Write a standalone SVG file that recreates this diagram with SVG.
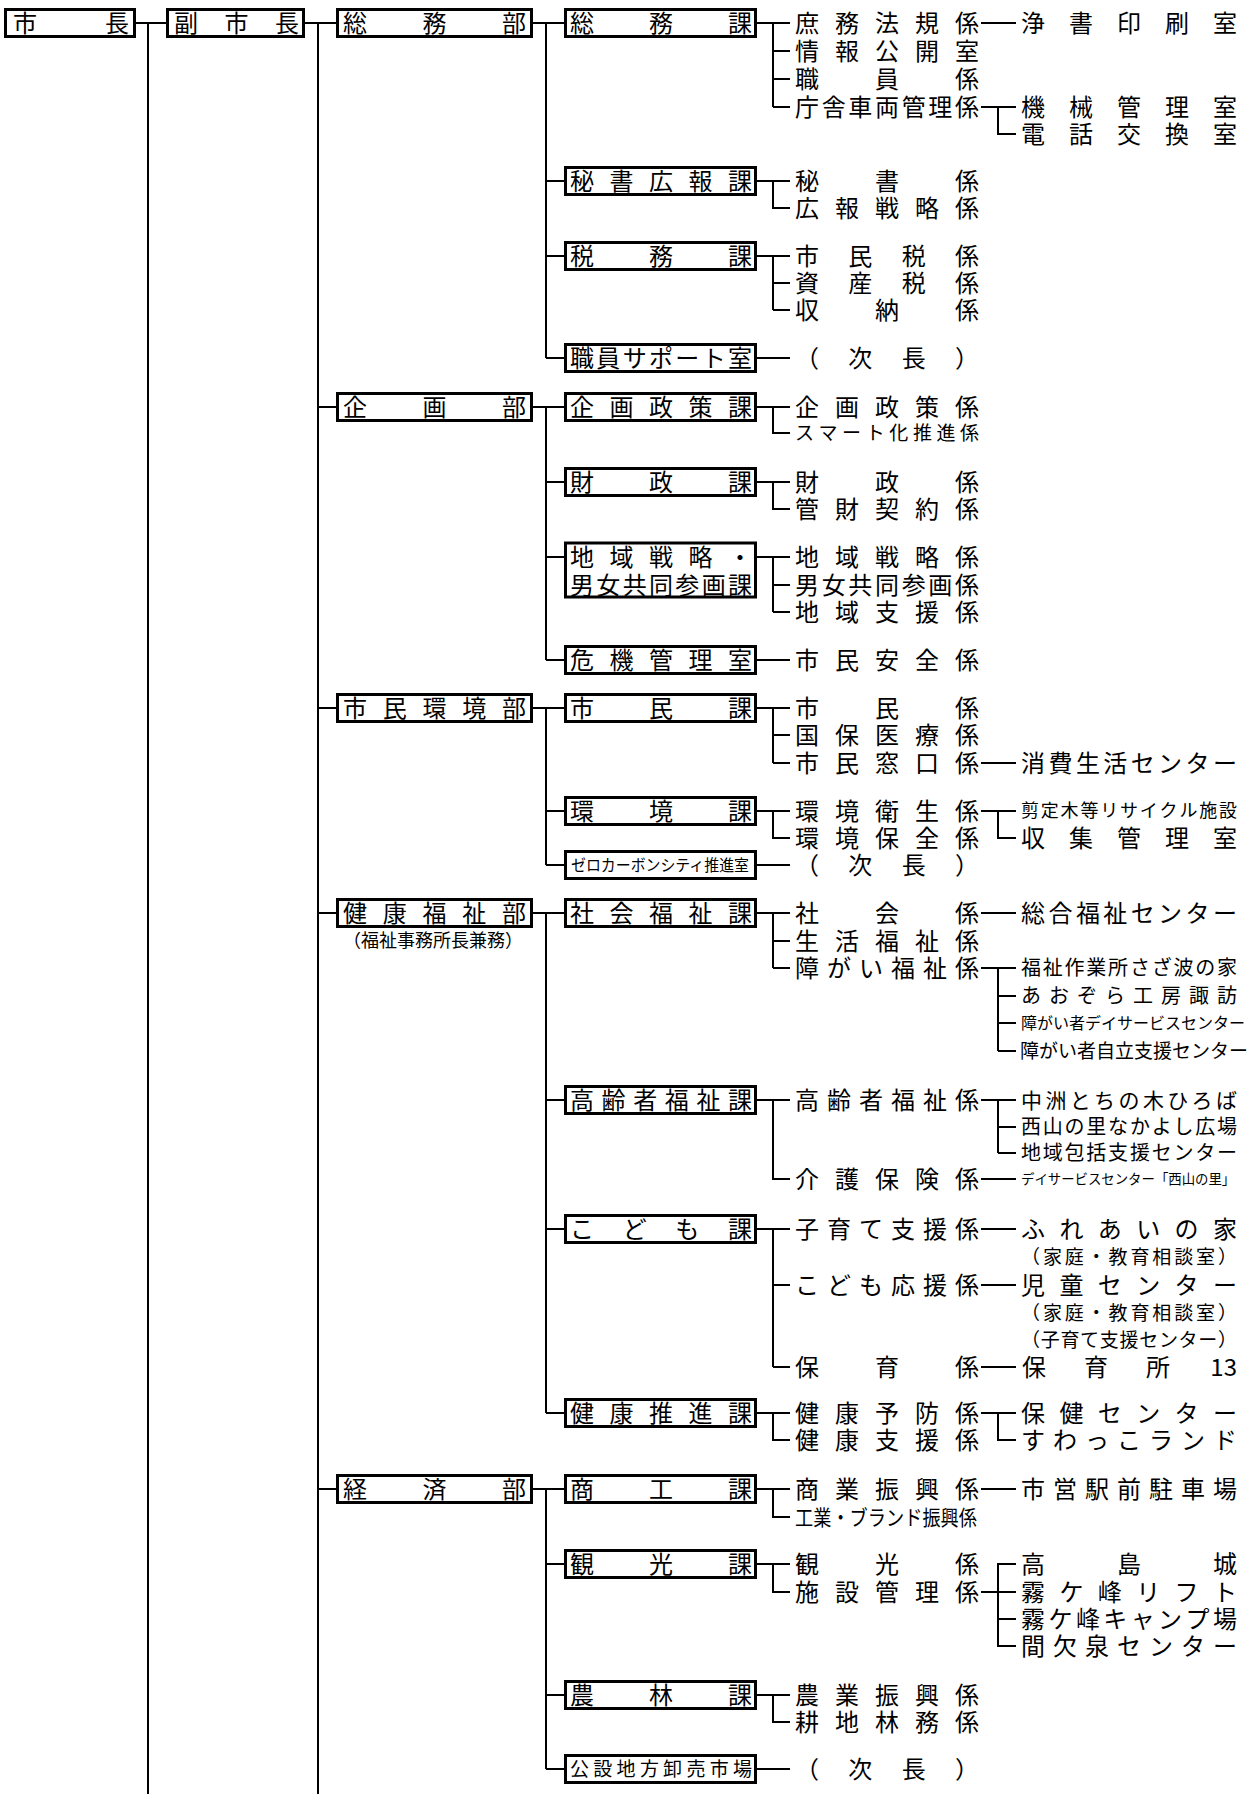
<svg xmlns="http://www.w3.org/2000/svg" width="1258" height="1794" viewBox="0 0 1258 1794">
<style>
.t{font-family:'Noto Sans CJK JP','Noto Sans CJK SC',sans-serif;font-size:24px;fill:#000}
.f21{font-size:21px}.f20{font-size:20px}.f19{font-size:19px}.f18{font-size:18px}.f16{font-size:16px}.f13{font-size:13.4px}
.box{fill:#fff;stroke:#000;stroke-width:3}
.ln{fill:none;stroke:#000;stroke-width:2}
</style>
<rect width="1258" height="1794" fill="#fff"/>
<g id="connectors" class="ln">
<path d="M136 23H166M148 23V1794"/>
<path d="M305 23H336M318 23V1794M318 407H336M318 708H336M318 913H336M318 1489H336"/>
<path d="M533 23H564M546 23V358M546 181H564M546 256H564M546 358H564"/>
<path d="M533 407H564M546 407V660M546 482H564M546 557H564M546 660H564"/>
<path d="M533 708H564M546 708V865M546 811H564M546 865H564"/>
<path d="M533 913H564M546 913V1413M546 1100H564M546 1229H564M546 1413H564"/>
<path d="M533 1489H564M546 1489V1769M546 1564H564M546 1695H564M546 1769H564"/>
<path d="M757 23H790M773 23V107M773 51H790M773 79H790M773 107H790"/>
<path d="M757 181H790M773 181V208H790"/>
<path d="M757 256H790M773 256V310M773 283H790M773 310H790"/>
<path d="M757 358H790"/>
<path d="M757 407H790M773 407V433H790"/>
<path d="M757 482H790M773 482V509H790"/>
<path d="M757 557H790M773 557V612M773 585H790M773 612H790"/>
<path d="M757 660H790"/>
<path d="M757 708H790M773 708V763M773 735H790M773 763H790"/>
<path d="M757 811H790M773 811V838H790"/>
<path d="M757 865H790"/>
<path d="M757 913H790M773 913V968M773 941H790M773 968H790"/>
<path d="M757 1100H790M773 1100V1179H790"/>
<path d="M757 1229H790M773 1229V1367M773 1285H790M773 1367H790"/>
<path d="M757 1413H790M773 1413V1440H790"/>
<path d="M757 1489H790M773 1489V1517H790"/>
<path d="M757 1564H790M773 1564V1592H790"/>
<path d="M757 1695H790M773 1695V1722H790"/>
<path d="M757 1769H790"/>
<path d="M981 23H1016"/>
<path d="M981 107H1016M998 107V134H1016"/>
<path d="M981 763H1016"/>
<path d="M981 811H1016M998 811V838H1016"/>
<path d="M981 913H1016"/>
<path d="M981 968H1016M998 968V1051M998 996H1016M998 1023H1016M998 1051H1016"/>
<path d="M981 1100H1016M998 1100V1153M998 1127H1016M998 1153H1016"/>
<path d="M981 1179H1016"/>
<path d="M981 1229H1016"/>
<path d="M981 1285H1016"/>
<path d="M981 1367H1016"/>
<path d="M981 1413H1016M998 1413V1440H1016"/>
<path d="M981 1489H1016"/>
<path d="M1016 1564H998V1646H1016M981 1592H1016M998 1619H1016"/>
</g>
<g id="n-shicho"><rect class="box" x="5.5" y="9.5" width="129" height="27"/><text class="t" x="13 105" y="32">市長</text></g>
<g id="n-fukushicho"><rect class="box" x="167.5" y="9.5" width="136" height="27"/><text class="t" x="174 224.5 275" y="32">副市長</text></g>
<g id="n-somubu"><rect class="box" x="337.5" y="9.5" width="194" height="27"/><text class="t" x="343 422.5 502" y="32">総務部</text></g>
<g id="n-kikakubu"><rect class="box" x="337.5" y="393.5" width="194" height="27"/><text class="t" x="343 422.5 502" y="416">企画部</text></g>
<g id="n-shiminkankyobu"><rect class="box" x="337.5" y="694.5" width="194" height="27"/><text class="t" x="343 382.8 422.5 462.3 502" y="717">市民環境部</text></g>
<g id="n-kenkofukushibu"><rect class="box" x="337.5" y="899.5" width="194" height="27"/><text class="t" x="343 382.8 422.5 462.3 502" y="922">健康福祉部</text><text class="t f18" x="343" y="947">（福祉事務所長兼務）</text></g>
<g id="n-keizaibu"><rect class="box" x="337.5" y="1475.5" width="194" height="27"/><text class="t" x="343 422.5 502" y="1498">経済部</text></g>
<g id="n-somuka"><rect class="box" x="565.5" y="9.5" width="190" height="27"/><text class="t" x="570 649 728" y="32">総務課</text></g>
<g id="n-hisho"><rect class="box" x="565.5" y="167.5" width="190" height="27"/><text class="t" x="570 609.5 649 688.5 728" y="190">秘書広報課</text></g>
<g id="n-zeimu"><rect class="box" x="565.5" y="242.5" width="190" height="27"/><text class="t" x="570 649 728" y="265">税務課</text></g>
<g id="n-support"><rect class="box" x="565.5" y="344.5" width="190" height="27"/><text class="t" x="570 596.3 622.7 649 675.3 701.7 728" y="367">職員サポート室</text></g>
<g id="n-kikakuseisaku"><rect class="box" x="565.5" y="393.5" width="190" height="27"/><text class="t" x="570 609.5 649 688.5 728" y="416">企画政策課</text></g>
<g id="n-zaisei"><rect class="box" x="565.5" y="468.5" width="190" height="27"/><text class="t" x="570 649 728" y="491">財政課</text></g>
<g id="n-chiiki"><rect class="box" x="565.5" y="543" width="190" height="54"/><text class="t" x="570 609.5 649 688.5 728" y="566">地域戦略・</text><text class="t" x="570 596.3 622.7 649 675.3 701.7 728" y="594">男女共同参画課</text></g>
<g id="n-kiki"><rect class="box" x="565.5" y="646.5" width="190" height="27"/><text class="t" x="570 609.5 649 688.5 728" y="669">危機管理室</text></g>
<g id="n-shiminka"><rect class="box" x="565.5" y="694.5" width="190" height="27"/><text class="t" x="570 649 728" y="717">市民課</text></g>
<g id="n-kankyo"><rect class="box" x="565.5" y="797.5" width="190" height="27"/><text class="t" x="570 649 728" y="820">環境課</text></g>
<g id="n-zerocarbon"><rect class="box" x="565.5" y="851.5" width="190" height="27"/><text class="t f16" x="571" y="871" textLength="178" lengthAdjust="spacingAndGlyphs">ゼロカーボンシティ推進室</text></g>
<g id="n-shakaifukushi"><rect class="box" x="565.5" y="899.5" width="190" height="27"/><text class="t" x="570 609.5 649 688.5 728" y="922">社会福祉課</text></g>
<g id="n-koreisha"><rect class="box" x="565.5" y="1086.5" width="190" height="27"/><text class="t" x="570 601.6 633.2 664.8 696.4 728" y="1109">高齢者福祉課</text></g>
<g id="n-kodomo"><rect class="box" x="565.5" y="1215.5" width="190" height="27"/><text class="t" x="570 622.7 675.3 728" y="1238">こども課</text></g>
<g id="n-kenkosuishin"><rect class="box" x="565.5" y="1399.5" width="190" height="27"/><text class="t" x="570 609.5 649 688.5 728" y="1422">健康推進課</text></g>
<g id="n-shoko"><rect class="box" x="565.5" y="1475.5" width="190" height="27"/><text class="t" x="570 649 728" y="1498">商工課</text></g>
<g id="n-kanko"><rect class="box" x="565.5" y="1550.5" width="190" height="27"/><text class="t" x="570 649 728" y="1573">観光課</text></g>
<g id="n-norin"><rect class="box" x="565.5" y="1681.5" width="190" height="27"/><text class="t" x="570 649 728" y="1704">農林課</text></g>
<g id="n-shijo"><rect class="box" x="565.5" y="1755.5" width="190" height="27"/><text class="t f19" x="570 593.3 616.6 639.9 663.1 686.4 709.7 733" y="1776">公設地方卸売市場</text></g>
<g id="kakari">
<g id="k1"><text class="t" x="795 835 875 915 955" y="32">庶務法規係</text></g>
<g id="k2"><text class="t" x="795 835 875 915 955" y="60">情報公開室</text></g>
<g id="k3"><text class="t" x="795 875 955" y="88">職員係</text></g>
<g id="k4"><text class="t" x="795 821.7 848.3 875 901.7 928.3 955" y="116">庁舎車両管理係</text></g>
<g id="k5"><text class="t" x="795 875 955" y="190">秘書係</text></g>
<g id="k6"><text class="t" x="795 835 875 915 955" y="217">広報戦略係</text></g>
<g id="k7"><text class="t" x="795 848.3 901.7 955" y="265">市民税係</text></g>
<g id="k8"><text class="t" x="795 848.3 901.7 955" y="292">資産税係</text></g>
<g id="k9"><text class="t" x="795 875 955" y="319">収納係</text></g>
<g id="k10"><text class="t" x="795 848.3 901.7 955" y="367">（次長）</text></g>
<g id="k11"><text class="t" x="795 835 875 915 955" y="416">企画政策係</text></g>
<g id="k12"><text class="t f19" x="795 818.6 842.1 865.7 889.3 912.9 936.4 960" y="440">スマート化推進係</text></g>
<g id="k13"><text class="t" x="795 875 955" y="491">財政係</text></g>
<g id="k14"><text class="t" x="795 835 875 915 955" y="518">管財契約係</text></g>
<g id="k15"><text class="t" x="795 835 875 915 955" y="566">地域戦略係</text></g>
<g id="k16"><text class="t" x="795 821.7 848.3 875 901.7 928.3 955" y="594">男女共同参画係</text></g>
<g id="k17"><text class="t" x="795 835 875 915 955" y="621">地域支援係</text></g>
<g id="k18"><text class="t" x="795 835 875 915 955" y="669">市民安全係</text></g>
<g id="k19"><text class="t" x="795 875 955" y="717">市民係</text></g>
<g id="k20"><text class="t" x="795 835 875 915 955" y="744">国保医療係</text></g>
<g id="k21"><text class="t" x="795 835 875 915 955" y="772">市民窓口係</text></g>
<g id="k22"><text class="t" x="795 835 875 915 955" y="820">環境衛生係</text></g>
<g id="k23"><text class="t" x="795 835 875 915 955" y="847">環境保全係</text></g>
<g id="k24"><text class="t" x="795 848.3 901.7 955" y="874">（次長）</text></g>
<g id="k25"><text class="t" x="795 875 955" y="922">社会係</text></g>
<g id="k26"><text class="t" x="795 835 875 915 955" y="950">生活福祉係</text></g>
<g id="k27"><text class="t" x="795 827 859 891 923 955" y="977">障がい福祉係</text></g>
<g id="k28"><text class="t" x="795 827 859 891 923 955" y="1109">高齢者福祉係</text></g>
<g id="k29"><text class="t" x="795 835 875 915 955" y="1188">介護保険係</text></g>
<g id="k30"><text class="t" x="795 827 859 891 923 955" y="1238">子育て支援係</text></g>
<g id="k31"><text class="t" x="795 827 859 891 923 955" y="1294">こども応援係</text></g>
<g id="k32"><text class="t" x="795 875 955" y="1376">保育係</text></g>
<g id="k33"><text class="t" x="795 835 875 915 955" y="1422">健康予防係</text></g>
<g id="k34"><text class="t" x="795 835 875 915 955" y="1449">健康支援係</text></g>
<g id="k35"><text class="t" x="795 835 875 915 955" y="1498">商業振興係</text></g>
<g id="k36"><text class="t f21" x="795" y="1525" textLength="182" lengthAdjust="spacingAndGlyphs">工業・ブランド振興係</text></g>
<g id="k37"><text class="t" x="795 875 955" y="1573">観光係</text></g>
<g id="k38"><text class="t" x="795 835 875 915 955" y="1601">施設管理係</text></g>
<g id="k39"><text class="t" x="795 835 875 915 955" y="1704">農業振興係</text></g>
<g id="k40"><text class="t" x="795 835 875 915 955" y="1731">耕地林務係</text></g>
<g id="k41"><text class="t" x="795 848.3 901.7 955" y="1778">（次長）</text></g>
</g>
<g id="facilities">
<g id="r1"><text class="t" x="1021 1069 1117 1165 1213" y="32">浄書印刷室</text></g>
<g id="r2"><text class="t" x="1021 1069 1117 1165 1213" y="116">機械管理室</text></g>
<g id="r3"><text class="t" x="1021 1069 1117 1165 1213" y="143">電話交換室</text></g>
<g id="r4"><text class="t" x="1021 1048.4 1075.9 1103.3 1130.7 1158.1 1185.6 1213" y="772">消費生活センター</text></g>
<g id="r5"><text class="t f18" x="1021 1040.8 1060.6 1080.4 1100.2 1120 1139.8 1159.6 1179.4 1199.2 1219" y="817">剪定木等リサイクル施設</text></g>
<g id="r6"><text class="t" x="1021 1069 1117 1165 1213" y="847">収集管理室</text></g>
<g id="r7"><text class="t" x="1021 1048.4 1075.9 1103.3 1130.7 1158.1 1185.6 1213" y="922">総合福祉センター</text></g>
<g id="r8"><text class="t f20" x="1021 1042.8 1064.6 1086.3 1108.1 1129.9 1151.7 1173.4 1195.2 1217" y="975">福祉作業所さざ波の家</text></g>
<g id="r9"><text class="t f20" x="1021 1049 1077 1105 1133 1161 1189 1217" y="1003">あおぞら工房諏訪</text></g>
<g id="r10"><text class="t f16" x="1021" y="1029">障がい者デイサービスセンター</text></g>
<g id="r11"><text class="t f19" x="1020" y="1058">障がい者自立支援センター</text></g>
<g id="r12"><text class="t f21" x="1021 1045.4 1069.8 1094.1 1118.5 1142.9 1167.3 1191.6 1216" y="1108">中洲とちの木ひろば</text></g>
<g id="r13"><text class="t f20" x="1021 1042.8 1064.6 1086.3 1108.1 1129.9 1151.7 1173.4 1195.2 1217" y="1134">西山の里なかよし広場</text></g>
<g id="r14"><text class="t f20" x="1021 1042.8 1064.6 1086.3 1108.1 1129.9 1151.7 1173.4 1195.2 1217" y="1160">地域包括支援センター</text></g>
<g id="r15"><text class="t f13" x="1021" y="1184">デイサービスセンター「西山の里」</text></g>
<g id="r16"><text class="t" x="1021 1059.4 1097.8 1136.2 1174.6 1213" y="1238">ふれあいの家</text></g>
<g id="r17"><text class="t f19" x="1021 1042.9 1064.8 1086.7 1108.6 1130.4 1152.3 1174.2 1196.1 1218" y="1264">（家庭・教育相談室）</text></g>
<g id="r18"><text class="t" x="1021 1059.4 1097.8 1136.2 1174.6 1213" y="1294">児童センター</text></g>
<g id="r19"><text class="t f19" x="1021 1042.9 1064.8 1086.7 1108.6 1130.4 1152.3 1174.2 1196.1 1218" y="1320">（家庭・教育相談室）</text></g>
<g id="r20"><text class="t f19" x="1021 1040.7 1060.4 1080.1 1099.8 1119.5 1139.2 1158.9 1178.6 1198.3 1218" y="1347">（子育て支援センター）</text></g>
<g id="r21"><text class="t" x="1022 1084 1146" y="1376">保育所</text><text class="t" x="1237" y="1376" text-anchor="end">13</text></g>
<g id="r22"><text class="t" x="1021 1059.4 1097.8 1136.2 1174.6 1213" y="1422">保健センター</text></g>
<g id="r23"><text class="t" x="1021 1053 1085 1117 1149 1181 1213" y="1449">すわっこランド</text></g>
<g id="r24"><text class="t" x="1021 1053 1085 1117 1149 1181 1213" y="1498">市営駅前駐車場</text></g>
<g id="r25"><text class="t" x="1021 1117 1213" y="1573">高島城</text></g>
<g id="r26"><text class="t" x="1021 1059.4 1097.8 1136.2 1174.6 1213" y="1601">霧ケ峰リフト</text></g>
<g id="r27"><text class="t" x="1021 1048.4 1075.9 1103.3 1130.7 1158.1 1185.6 1213" y="1628">霧ケ峰キャンプ場</text></g>
<g id="r28"><text class="t" x="1021 1053 1085 1117 1149 1181 1213" y="1655">間欠泉センター</text></g>
</g>
</svg>
